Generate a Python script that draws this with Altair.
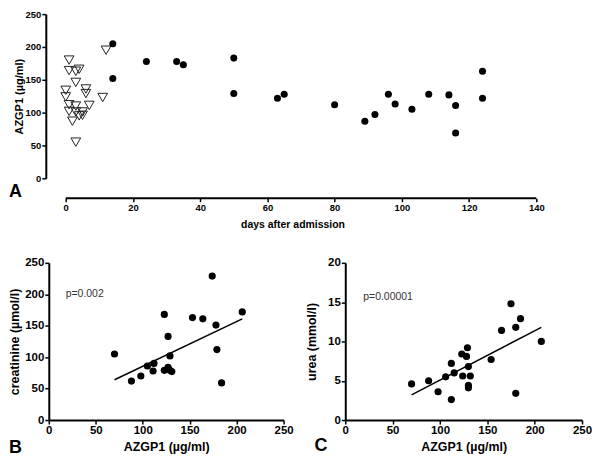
import altair as alt
import pandas as pd

# ---------------- data ----------------
# Panel A: open triangles (early samples) and filled circles (later samples)
tri_days = [1, 1, 3, 4, 3, 0, 6, 0, 6, 11, 12, 1, 3, 7, 1, 3, 5, 4, 5, 2, 3]
tri_azgp1 = [180, 164, 163, 166, 146, 134, 136, 124, 129, 123, 195, 112, 110, 111, 102, 101, 101, 95, 96, 87, 55]
dot_days = [14, 14, 24, 33, 35, 50, 50, 63, 65, 80, 89, 92, 96, 98, 103, 108, 114, 116, 116, 124, 124]
dot_azgp1 = [205, 152, 178, 178, 173, 183, 129, 122, 128, 112, 87, 97, 128, 113, 105, 128, 127, 111, 69, 163, 122]
a_axis_span = [0, 140]

# Panel B: AZGP1 vs creatinine
b_azgp1 = [70, 88, 98, 105, 112, 111, 123, 123, 127, 129, 127, 129, 131, 153, 164, 174, 178, 179, 184, 206]
b_creat = [105, 62, 70, 86, 90, 78, 168, 79, 133, 102, 84, 79, 77, 163, 161, 229, 151, 112, 59, 172]
b_fit_x = [70, 206]
b_fit_y = [64, 161]

# Panel C: AZGP1 vs urea
c_azgp1 = [70, 88, 98, 106, 112, 112, 115, 123, 124, 128, 129, 130, 130, 130, 132, 154, 165, 175, 180, 185, 180, 207]
c_urea = [4.6, 5.0, 3.6, 5.5, 7.2, 2.6, 6.0, 8.4, 5.6, 8.1, 9.2, 6.8, 4.4, 4.1, 5.6, 7.7, 11.4, 14.8, 11.8, 12.9, 3.4, 10.0]
c_fit_x = [70, 207]
c_fit_y = [3.2, 11.8]

a_x_ticks = list(range(0, 141, 10))
a_y_ticks = [0, 50, 100, 150, 200, 250]
bc_x_ticks = [0, 50, 100, 150, 200, 250]
b_y_ticks = [0, 50, 100, 150, 200, 250]
c_y_ticks = [0, 5, 10, 15, 20]

FONT = "Liberation Sans"
A_H = 165

# ---------------- panel A ----------------
tri_df = pd.DataFrame({"days": tri_days, "azgp1": tri_azgp1})
dot_df = pd.DataFrame({"days": dot_days, "azgp1": dot_azgp1})
span_df = pd.DataFrame({"days": [a_axis_span[0]], "days2": [a_axis_span[1]]})

xs_a = alt.Scale(domain=[-5.04, 140], nice=False, zero=False)
ax_x = alt.X("days:Q", scale=xs_a,
             axis=alt.Axis(values=a_x_ticks, labelExpr="datum.value % 20 == 0 ? datum.label : ''",
                           domain=False, offset=20, title="days after admission", labelFontSize=9.5,
                           titleFontSize=10.5, tickSize=3.5, labelPadding=1, titlePadding=7,
                           labelFlush=False))
ax_y = alt.Y("azgp1:Q", scale=alt.Scale(domain=[0, 250], nice=False),
             axis=alt.Axis(values=a_y_ticks, offset=3, title="AZGP1 (µg/ml)", labelFontSize=9.5,
                           titleFontSize=11, tickSize=4, labelPadding=1, titlePadding=1))

a_tri = alt.Chart(tri_df).mark_point(shape="triangle-down", filled=False, stroke="#222",
                                     strokeWidth=1, size=95, opacity=1).encode(x=ax_x, y=ax_y)
a_dot = alt.Chart(dot_df).mark_circle(size=50, color="black", opacity=1).encode(x=ax_x, y=ax_y)
a_dom = alt.Chart(span_df).mark_rule(color="black", strokeWidth=2).encode(
    x=alt.X("days:Q", scale=xs_a), x2="days2:Q", y=alt.value(A_H + 20))
a_lab = alt.Chart(pd.DataFrame({"t": ["A"]})).mark_text(
    font=FONT, fontWeight="bold", fontSize=18, align="left", baseline="alphabetic", color="black"
).encode(x=alt.value(-40), y=alt.value(184), text="t:N")

panel_a = alt.layer(a_dom, a_tri, a_dot, a_lab).properties(width=490, height=A_H)

# ---------------- panel B ----------------
b_df = pd.DataFrame({"azgp1": b_azgp1, "val": b_creat})
b_fit = pd.DataFrame({"azgp1": b_fit_x, "val": b_fit_y})
b_txt = pd.DataFrame({"azgp1": [18], "val": [200], "t": ["p=0.002"]})

bx = alt.X("azgp1:Q", scale=alt.Scale(domain=[0, 250], nice=False),
           axis=alt.Axis(values=bc_x_ticks, title="AZGP1 (µg/ml)", labelFontSize=11.5,
                         titleFontSize=12.5, tickSize=4, labelPadding=1, titlePadding=4,
                         labelFlush=False))
by = alt.Y("val:Q", scale=alt.Scale(domain=[0, 250], nice=False),
           axis=alt.Axis(values=b_y_ticks, title="creatinine (µmol/l)", labelFontSize=11.5,
                         titleFontSize=12.5, tickSize=4, labelPadding=1, titlePadding=3))

b_pts = alt.Chart(b_df).mark_circle(size=52, color="black", opacity=1).encode(x=bx, y=by)
b_line = alt.Chart(b_fit).mark_line(color="black", strokeWidth=1.5).encode(x=bx, y=by)
b_p = alt.Chart(b_txt).mark_text(font=FONT, fontSize=10.5, align="left", color="#333").encode(x=bx, y=by, text="t:N")
b_lab = alt.Chart(pd.DataFrame({"t": ["B"]})).mark_text(
    font=FONT, fontWeight="bold", fontSize=18, align="left", baseline="alphabetic", color="black"
).encode(x=alt.value(-40), y=alt.value(191), text="t:N")
panel_b = alt.layer(b_pts, b_line, b_p, b_lab).properties(width=236, height=158)

# ---------------- panel C ----------------
c_df = pd.DataFrame({"azgp1": c_azgp1, "val": c_urea})
c_fit = pd.DataFrame({"azgp1": c_fit_x, "val": c_fit_y})
c_txt = pd.DataFrame({"azgp1": [19], "val": [15.6], "t": ["p=0.00001"]})

cx = alt.X("azgp1:Q", scale=alt.Scale(domain=[0, 250], nice=False),
           axis=alt.Axis(values=bc_x_ticks, title="AZGP1 (µg/ml)", labelFontSize=11.5,
                         titleFontSize=12.5, tickSize=4, labelPadding=1, titlePadding=4,
                         labelFlush=False))
cy = alt.Y("val:Q", scale=alt.Scale(domain=[0, 20], nice=False),
           axis=alt.Axis(values=c_y_ticks, title="urea (mmol/l)", labelFontSize=11.5,
                         titleFontSize=12.5, tickSize=4, labelPadding=1, titlePadding=9))

c_pts = alt.Chart(c_df).mark_circle(size=52, color="black", opacity=1).encode(x=cx, y=cy)
c_line = alt.Chart(c_fit).mark_line(color="black", strokeWidth=1.5).encode(x=cx, y=cy)
c_p = alt.Chart(c_txt).mark_text(font=FONT, fontSize=10.5, align="left", color="#333").encode(x=cx, y=cy, text="t:N")
c_lab = alt.Chart(pd.DataFrame({"t": ["C"]})).mark_text(
    font=FONT, fontWeight="bold", fontSize=18, align="left", baseline="alphabetic", color="black"
).encode(x=alt.value(-31), y=alt.value(189), text="t:N")
panel_c = alt.layer(c_pts, c_line, c_p, c_lab).properties(width=238, height=158)

chart = alt.vconcat(
    panel_a,
    alt.hconcat(panel_b, panel_c, spacing=12),
    spacing=27,
).properties(padding={"left": 0, "top": 0, "right": 0, "bottom": 0}).configure_view(
    stroke=None
).configure_axis(
    grid=False, domainColor="black", domainWidth=2, tickColor="black", tickWidth=1.5,
    labelFont=FONT, labelFontWeight="bold", labelColor="black",
    titleFont=FONT, titleFontWeight="bold", titleColor="black",
)

chart.save("out.html", embed_options={"renderer": "svg", "actions": False})
